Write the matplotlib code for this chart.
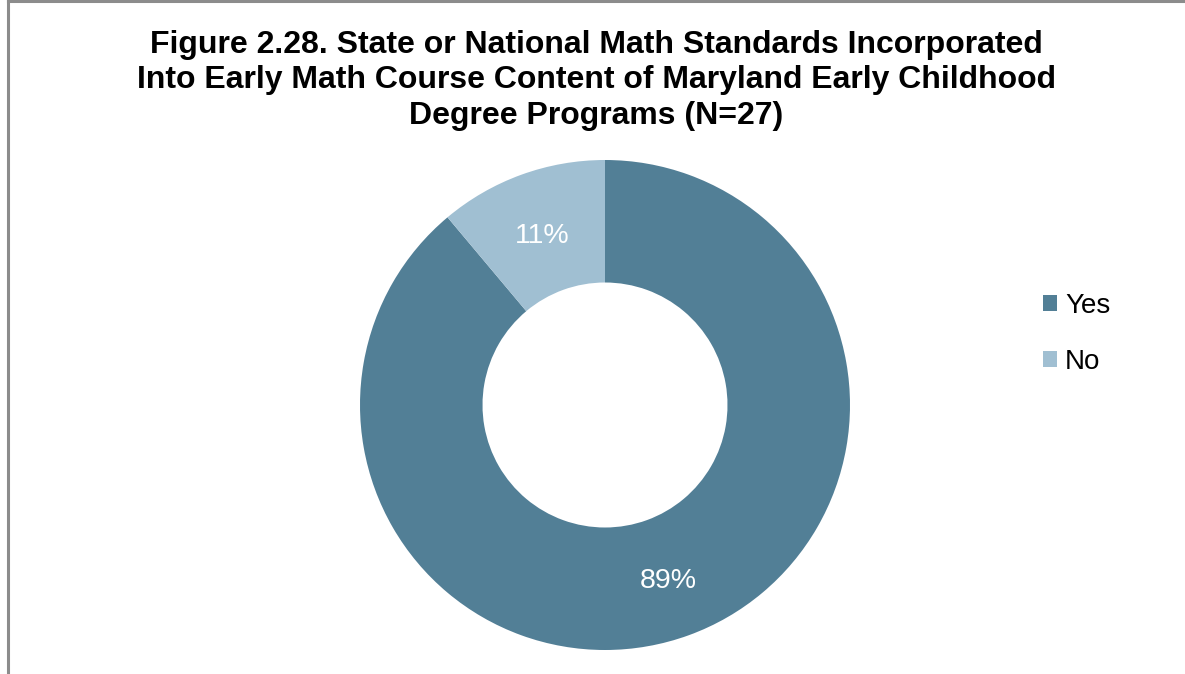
import numpy as np
import matplotlib.pyplot as plt
from matplotlib.lines import Line2D
from matplotlib.patches import Patch

# Survey answers (N=27)
labels = ['Yes', 'No']
counts = [24, 3]
colors = ['#527f96', '#a0bfd2']

plt.rcParams['font.family'] = ['Liberation Sans', 'DejaVu Sans']

fig = plt.figure(figsize=(11.85, 6.74), dpi=100)

# gray frame on the left and top edges
fig.add_artist(Line2D([0.0065, 0.0065], [0, 1], color='#8c8c8c', lw=2.2, transform=fig.transFigure))
fig.add_artist(Line2D([0.0065, 1], [0.9985, 0.9985], color='#8c8c8c', lw=2.2, transform=fig.transFigure))

fig.text(0.503, 0.956, 'Figure 2.28. State or National Math Standards Incorporated\n'
         'Into Early Math Course Content of Maryland Early Childhood\n'
         'Degree Programs (N=27)',
         ha='center', va='top', fontsize=23, fontweight='bold', linespacing=1.25)

# donut centred at about (605, 405) px, outer radius ~245 px
r_px = 245
ax = fig.add_axes([(605 - r_px) / 1185, (674 - 405 - r_px) / 674, 2 * r_px / 1185, 2 * r_px / 674])
wedges, _ = ax.pie(counts, colors=colors, startangle=90, counterclock=False,
                   radius=1, wedgeprops=dict(width=0.5, edgecolor='none'))
ax.set_aspect('auto')
ax.set_xlim(-1, 1)
ax.set_ylim(-1, 1)

total = sum(counts)
angle = 90
for c in counts:
    frac = c / total
    mid = np.deg2rad(angle - frac * 360 / 2)
    angle -= frac * 360
    ax.text(0.75 * np.cos(mid), 0.75 * np.sin(mid) - 0.015, f'{round(100 * frac)}%',
            ha='center', va='center', color='white', fontsize=20.5)

handles = [Patch(facecolor=col, edgecolor='none') for col in colors]
fig.legend(handles, labels, loc='upper left', bbox_to_anchor=(0.859, 0.603),
           frameon=False, fontsize=20, handlelength=0.5, handleheight=0.5,
           handletextpad=0.3, labelspacing=1.1)

fig.savefig('out.png', dpi=100, facecolor='white')
